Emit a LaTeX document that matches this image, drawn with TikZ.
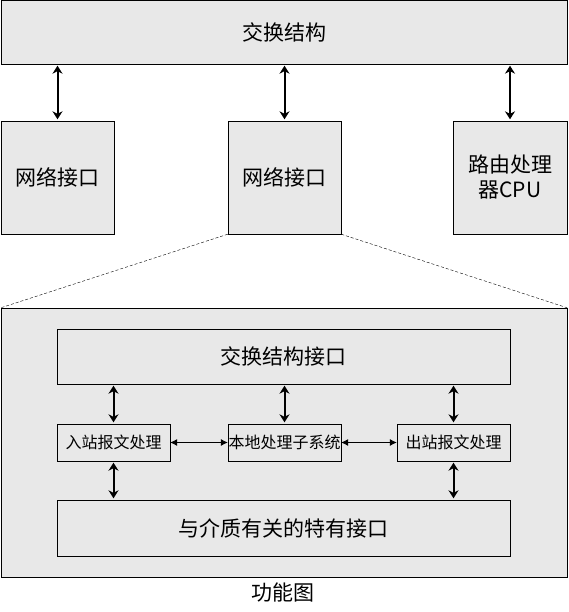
\documentclass[tikz,border=0pt]{standalone}
\usepackage{fontspec}
\setmainfont{Noto Sans CJK SC}
\usetikzlibrary{positioning,arrows.meta}
\definecolor{boxgray}{HTML}{E8E8E8}

\begin{document}
\begin{tikzpicture}[x=1pt, y=-1pt, >=Latex,
    every node/.style={font=\fontsize{21pt}{25pt}\selectfont},
    box/.style={draw, fill=boxgray, inner sep=0pt, align=center},
    smallbox/.style={box, minimum width=113pt, minimum height=37pt, font=\fontsize{16pt}{19pt}\selectfont},
    link/.style={{Stealth[length=8pt,width=10pt]}-{Stealth[length=8pt,width=10pt]}, line width=2pt, shorten <=1.5pt, shorten >=1.5pt},
    thinlink/.style={{Latex[length=7pt,width=7pt]}-{Latex[length=7pt,width=7pt]}, line width=0.8pt}]
  \useasboundingbox (0,0) rectangle (568,612);

  % upper level
  \node[box, minimum width=566pt, minimum height=64pt] (fabric) at (284,32) {交换结构};
  \node[box, minimum width=113pt, minimum height=113pt] (net1) at (57.5,177.5) {网络接口};
  \node[box, minimum width=113pt, minimum height=113pt] (net2) at (284.5,177.5) {网络接口};
  \node[box, minimum width=114pt, minimum height=113pt] (cpu) at (510,177.5) {路由处理\\器CPU};

  \draw[link] (fabric.south -| net1) -- (net1.north);
  \draw[link] (fabric.south -| net2) -- (net2.north);
  \draw[link] (fabric.south -| cpu) -- (cpu.north);

  % detail of one interface
  \node[box, minimum width=566pt, minimum height=269pt] (func) at (284,442.5) {};
  \draw[dash pattern=on 3pt off 2pt] (net2.south west) -- (func.north west);
  \draw[dash pattern=on 3pt off 2pt] (net2.south east) -- (func.north east);

  \node[box, minimum width=453pt, minimum height=55pt] (fabif) at (283.5,356.5) {交换结构接口};
  \node[smallbox] (inproc) at (113.5,442.5) {入站报文处理};
  \node[smallbox] (local) at (284.5,442.5) {本地处理子系统};
  \node[smallbox] (outproc) at (453.5,442.5) {出站报文处理};
  \node[box, minimum width=453pt, minimum height=56pt] (media) at (283.5,528) {与介质有关的特有接口};

  \draw[link] (fabif.south -| inproc) -- (inproc.north);
  \draw[link] (fabif.south -| local) -- (local.north);
  \draw[link] (fabif.south -| outproc) -- (outproc.north);
  \draw[link] (inproc.south) -- (media.north -| inproc);
  \draw[link] (outproc.south) -- (media.north -| outproc);
  \draw[thinlink] (inproc) -- (local);
  \draw[thinlink] (local) -- (outproc);

  \node (caption) at (283,593) {功能图};
\end{tikzpicture}
\end{document}
